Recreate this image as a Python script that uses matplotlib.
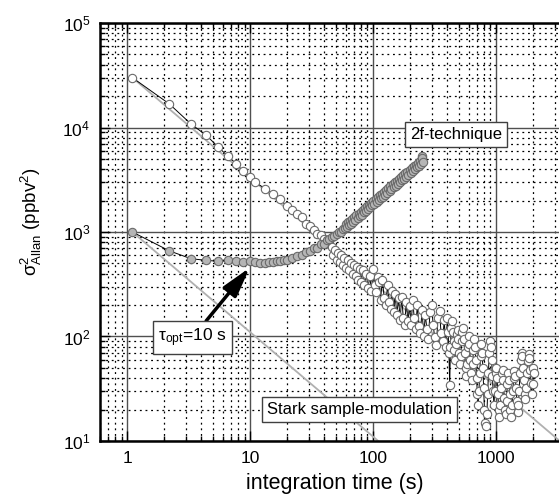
import matplotlib
matplotlib.use('Agg')
import matplotlib.pyplot as plt
from matplotlib.ticker import FixedLocator, LogLocator, NullFormatter

plt.rcParams['font.family'] = ['Liberation Sans', 'DejaVu Sans']
plt.rcParams['mathtext.default'] = 'regular'

# Stark sample-modulation: Allan variance vs integration time
stark_tau = [1.1, 2.2, 3.3, 4.4, 5.5, 6.6, 7.7, 8.8, 9.9, 11.0,
             13.2, 15.4, 17.6, 19.8, 22.0, 24.2, 26.4, 28.6, 30.8, 33.0,
             35.2, 37.4, 39.6, 41.8, 44.0,
             46, 47.5, 49, 50.5, 52, 53.5, 55, 56.5, 58, 60,
             62, 64, 66, 68, 70, 72, 74, 76, 78, 80,
             82, 85, 88, 91, 94, 97, 100, 103, 106, 109,
             112, 115, 119, 123, 127, 131, 135, 139, 143, 147,
             151, 156, 161, 166, 171, 176, 181, 186, 192, 198,
             204, 210, 216, 222, 229, 236, 243, 250, 258, 266,
             274, 282, 290, 299, 308, 317, 327, 337, 347, 357,
             368, 379, 390,
             402, 408, 414, 420, 426, 432, 439, 446, 452, 459,
             466, 473, 480, 487, 494, 502, 509, 517, 524, 532,
             540, 548, 556, 565, 573, 582, 590, 599, 608, 617,
             626, 636, 645, 655, 664, 674, 684, 695, 705, 716,
             726, 737, 748, 759, 770, 782, 793, 805, 817, 830,
             842, 855, 867, 880, 893, 907, 920, 934, 948, 962,
             976, 991, 1005, 1020, 1035, 1051, 1066, 1082, 1098, 1115,
             1131, 1148, 1165, 1183, 1200, 1218, 1236, 1255, 1273, 1292,
             1311, 1331, 1350, 1371, 1391, 1412, 1433, 1454, 1476, 1498,
             1520, 1543, 1566, 1590, 1613, 1637, 1661, 1686, 1711, 1737,
             1762, 1789, 1815, 1842, 1869, 1897, 1925, 1954, 1983, 2012,
             2040]
stark_var = [30000, 16800, 10800, 8400, 6500, 5300, 4500, 3800, 3350, 3000,
             2600, 2330, 2050, 1760, 1620, 1480, 1400, 1180, 1150, 1050,
             960, 930, 850, 790, 780,
             720, 600, 680, 540, 630, 520, 600, 480, 570, 450,
             540, 430, 510, 400, 480, 380, 460, 350, 440, 330,
             430, 310, 400, 290, 380, 270, 440, 310, 265, 370,
             330, 225, 350, 235, 200, 310, 215, 185, 275, 170,
             255, 160, 235, 145, 240, 150, 130, 215, 140, 195,
             130, 225, 150, 118, 200, 125, 108, 180, 102, 160,
             118, 95, 170, 200, 130, 98, 82, 150, 175, 108,
             90, 145, 80,
             150, 110, 70, 34, 80, 120, 140, 110, 90, 75,
             60, 85, 105, 115, 95, 70, 55, 65, 90, 110,
             120, 95, 70, 50, 42, 55, 80, 100, 85, 60,
             45, 38, 55, 75, 95, 80, 60, 40, 28, 22,
             30, 45, 65, 85, 70, 50, 32, 20, 15, 14,
             18, 28, 45, 70, 90, 80, 60, 42, 30, 22,
             30, 45, 50, 40, 28, 20, 17, 22, 32, 45,
             48, 38, 26, 20, 18, 24, 35, 45, 38, 28,
             20, 17, 22, 30, 40, 47, 42, 32, 24, 19,
             22, 30, 45, 60, 70, 65, 50, 38, 28, 25,
             32, 45, 58, 68, 62, 48, 36, 28, 35, 50,
             45]

# 2f-technique
wm_tau = [1.1, 2.2, 3.3, 4.4, 5.5, 6.6, 7.7, 8.8, 9.9, 11.0,
          12.1, 13.2, 14.3, 15.4, 16.5, 17.6, 18.7, 19.8, 22.0, 24.2,
          26.4, 28.6, 30.8, 33.0, 35.2, 37.4, 39.6, 41.8, 44.0, 46.2,
          48.4, 50.6, 52.8, 55.0, 57.2, 59.4,
          60, 61.2, 62.4, 63.7, 65, 66.3, 67.6, 69, 70.4, 71.8,
          73.2, 74.7, 76.2, 77.7, 79.3, 80.9, 82.5, 84.1, 85.8, 87.5,
          89.3, 91.1, 92.9, 94.8, 96.7, 98.6, 100.6, 102.6, 104.7, 106.8,
          108.9, 111, 113, 116, 118, 120, 123, 125, 128, 130,
          133, 136, 138, 141, 144, 147, 150, 153, 156, 159,
          162, 165, 169, 172, 176, 179, 183, 186, 190, 194,
          198, 202, 206, 210, 214, 219, 223, 228, 232, 237,
          242, 246, 248, 251, 253]
wm_var = [1000, 660, 555, 535, 525, 535, 530, 520, 525, 515,
          510, 505, 515, 520, 525, 530, 540, 545, 560, 590,
          600, 640, 655, 700, 710, 760, 770, 830, 850, 890,
          910, 960, 1000, 1010, 1080, 1100,
          1180, 1110, 1250, 1170, 1270, 1190, 1340, 1260, 1380, 1300,
          1450, 1350, 1500, 1420, 1560, 1470, 1620, 1540, 1700, 1580,
          1760, 1660, 1830, 1720, 1900, 1800, 1990, 1870, 2080, 1940,
          2150, 2020, 2240, 2110, 2330, 2180, 2440, 2270, 2540, 2360,
          2640, 2470, 2740, 2560, 2860, 2670, 2980, 2780, 3100, 2890,
          3220, 3000, 3350, 3120, 3490, 3250, 3630, 3380, 3770, 3520,
          3930, 3670, 4090, 3810, 4250, 3980, 4420, 4150, 4600, 4310,
          4800, 4500, 5300, 5100, 4700]

# white-noise (slope -1) reference lines through the first points
ref_tau = [1.1, 4000]
ref_stark = [30000, 30000 * 1.1 / 4000]
ref_wm = [1000, 1000 * 1.1 / 4000]

fig = plt.figure(figsize=(5.59, 4.97), dpi=100)
ax = fig.add_axes([0.1789, 0.1127, 0.8408, 0.8410])

ax.plot(ref_tau, ref_stark, color='#b0b0b0', lw=1.3, zorder=2)
ax.plot(ref_tau, ref_wm, color='#b0b0b0', lw=1.3, zorder=2)

ax.plot(stark_tau, stark_var, '-o', color='black', lw=0.7, ms=6,
        mfc='white', mec='#6a6a6a', mew=0.8, zorder=3)
ax.plot(wm_tau, wm_var, '-o', color='black', lw=0.7, ms=6,
        mfc='#b5b5b5', mec='#6a6a6a', mew=0.8, zorder=4)

ax.set_xscale('log')
ax.set_yscale('log')
ax.set_xlim(0.6, 4000)
ax.set_ylim(10, 1e5)

ax.xaxis.set_major_locator(FixedLocator([1, 10, 100, 1000]))
ax.set_xticklabels(['1', '10', '100', '1000'])
ax.xaxis.set_minor_locator(LogLocator(base=10, subs=range(2, 10)))
ax.xaxis.set_minor_formatter(NullFormatter())
ax.yaxis.set_major_locator(LogLocator(base=10))
ax.yaxis.set_minor_locator(LogLocator(base=10, subs=range(2, 10)))
ax.yaxis.set_minor_formatter(NullFormatter())

ax.grid(which='major', color='#505050', lw=1.0, ls='-', zorder=1)
ax.grid(which='minor', color='black', lw=0.9, ls=(0, (1.5, 3)), zorder=1)
ax.set_axisbelow(True)

ax.tick_params(which='both', direction='in', top=True, right=True,
               labelsize=12.5, width=1, color='black')
ax.tick_params(which='major', length=7, pad=7)
ax.tick_params(which='minor', length=3.5)
for side in ['left', 'bottom', 'top', 'right']:
    ax.spines[side].set_linewidth(1.8)

ax.set_xlabel('integration time (s)', fontsize=15.5, labelpad=5)
ax.set_ylabel(r'$\sigma^2_{Allan}$ (ppbv$^2$)', fontsize=13.5)
ax.yaxis.set_label_coords(-0.12, 0.525)

box = dict(boxstyle='square,pad=0.3', fc='white', ec='#404040', lw=1)
ax.text(470, 8500, '2f-technique', fontsize=12, ha='center', va='center',
        bbox=box, zorder=6)
ax.text(78, 20, 'Stark sample-modulation', fontsize=12, ha='center',
        va='center', bbox=box, zorder=6)
ax.annotate(r'$\tau_{opt}$=10 s', xy=(9.9, 455), xytext=(3.38, 97),
            fontsize=12.5, ha='center', va='center', bbox=box, zorder=6,
            arrowprops=dict(arrowstyle='-|>,head_length=0.9,head_width=0.25',
                            mutation_scale=20, lw=2.5, color='black',
                            shrinkA=0, shrinkB=0))

fig.savefig('out.png', dpi=100)
